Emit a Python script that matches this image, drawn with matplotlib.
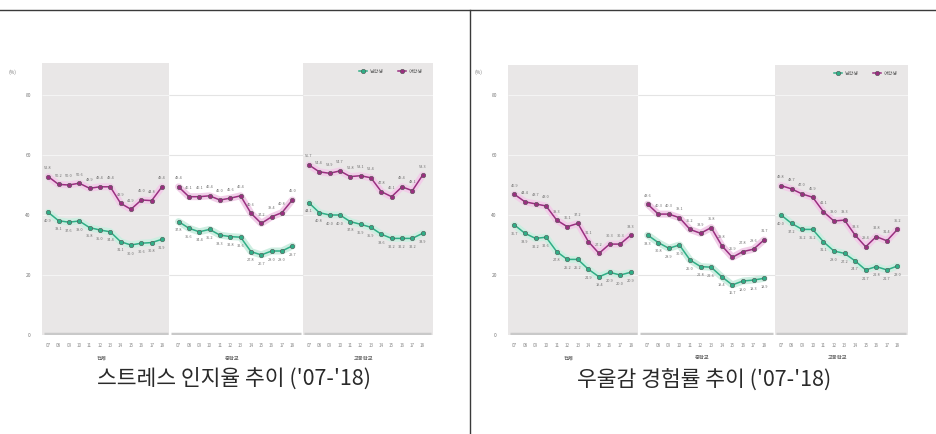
import matplotlib
matplotlib.use('Agg')
import matplotlib.pyplot as plt
from matplotlib.lines import Line2D
from matplotlib.transforms import blended_transform_factory

plt.rcParams['font.family'] = ['Noto Sans CJK KR', 'DejaVu Sans']

# 연도 / 학교급
years = ['07', '08', '09', '10', '11', '12', '13', '14', '15', '16', '17', '18']
groups = ['전체', '중학교', '고등학교']
labels = ['남학생', '여학생']

# 스트레스 인지율 (%)
stress_boys = [
    [40.9, 38.1, 37.6, 38.0, 35.8, 35.0, 34.4, 31.1, 30.0, 30.6, 30.8, 31.9],
    [37.8, 35.6, 34.4, 35.2, 33.3, 32.8, 32.6, 27.8, 26.7, 28.0, 28.0, 29.7],
    [44.1, 40.8, 40.0, 40.0, 37.8, 36.9, 35.9, 33.6, 32.2, 32.2, 32.2, 33.9],
]
stress_girls = [
    [52.8, 50.2, 50.0, 50.6, 48.9, 49.4, 49.4, 43.9, 41.9, 45.0, 44.8, 49.4],
    [49.4, 46.1, 46.1, 46.4, 45.0, 45.6, 46.4, 40.6, 37.2, 39.4, 40.8, 45.0],
    [56.7, 54.4, 53.9, 54.7, 52.8, 53.1, 52.4, 47.8, 46.1, 49.4, 48.1, 53.3],
]

# 우울감 경험률 (%)
depress_boys = [
    [36.7, 33.9, 32.2, 32.6, 27.8, 25.2, 25.2, 21.9, 19.4, 20.9, 20.0, 20.9],
    [33.3, 30.8, 28.9, 30.0, 25.0, 22.8, 22.6, 19.4, 16.7, 18.0, 18.3, 18.9],
    [40.0, 37.2, 35.2, 35.2, 31.1, 28.0, 27.2, 24.7, 21.7, 22.8, 21.7, 23.0],
]
depress_girls = [
    [46.9, 44.4, 43.7, 43.0, 38.3, 36.1, 37.2, 31.1, 27.2, 30.3, 30.3, 33.3],
    [43.6, 40.3, 40.3, 39.1, 35.2, 33.9, 35.8, 29.8, 25.9, 27.8, 28.6, 31.7],
    [49.8, 48.7, 47.0, 45.9, 41.1, 38.0, 38.3, 33.3, 29.4, 32.8, 31.4, 35.2],
]

GREEN = '#2fae86'
GREEN_GLOW = '#cdeee1'
PURPLE = '#9a2f80'
PURPLE_GLOW = '#f1cde8'
SHADE = '#e9e7e7'

PW = 12.6        # 학교급 한 칸의 폭
OFF = 0.6
bounds = [(0, 12.3), (12.3, 25.2), (25.2, 37.8)]


def draw_chart(ax, boys, girls, ytop):
    ax.set_xlim(0, 37.8)
    ax.set_ylim(0, ytop)
    for s in ax.spines.values():
        s.set_visible(False)

    xticks = []
    for p, (x0, x1) in enumerate(bounds):
        if p != 1:
            ax.axvspan(x0, x1, color=SHADE, lw=0, zorder=0)
        gc = '#f4f4f4' if p != 1 else '#e4e4e4'
        for g in [20, 40, 60, 80]:
            ax.hlines(g, x0, x1, color=gc, lw=0.8, zorder=1)
        ax.hlines(0.4, x0 + 0.15, x1 - 0.15, color='#c9c9c9', lw=2.5, zorder=2)

        xs = [p * PW + OFF + i for i in range(len(years))]
        xticks += xs
        for vals, c, glow, dy, va in [(boys[p], GREEN, GREEN_GLOW, -2.2, 'top'),
                                      (girls[p], PURPLE, PURPLE_GLOW, 2.2, 'bottom')]:
            ax.plot(xs, vals, color=glow, lw=5, solid_capstyle='round', zorder=3)
            ax.plot(xs, vals, color=c, lw=1.1, marker='o', ms=3.2,
                    mfc=c, mec='#555555', mew=0.4, zorder=4)
            for x, v in zip(xs, vals):
                ax.text(x, v + dy, f'{v:.1f}', ha='center', va=va,
                        fontsize=2.8, color='#6f6f6f', zorder=5)

    ax.set_xticks(xticks)
    ax.set_xticklabels(years * 3, fontsize=3.3, color='#888888')
    ax.set_yticks([0, 20, 40, 60, 80])
    ax.set_yticklabels(['0', '20', '40', '60', '80'], fontsize=3.5, color='#777777')
    ax.tick_params(length=0, pad=6)
    ax.tick_params(axis='y', pad=8)
    ax.text(-0.075, 263 / 3 / ytop, '(%)', transform=ax.transAxes,
            fontsize=3.5, color='#777777', ha='center', va='center')

    tr = blended_transform_factory(ax.transData, ax.transAxes)
    for p, (x0, x1) in enumerate(bounds):
        ax.text((x0 + x1) / 2 - 0.4, -0.085, groups[p], transform=tr,
                ha='center', va='center', fontsize=3.8, color='#666666', weight='bold')

    handles = [Line2D([], [], color=GREEN, lw=1.1, marker='o', ms=3.2, mec='#555555', mew=0.4),
               Line2D([], [], color=PURPLE, lw=1.1, marker='o', ms=3.2, mec='#555555', mew=0.4)]
    ax.legend(handles, labels, loc='upper right', bbox_to_anchor=(0.985, 0.995), ncol=2,
              frameon=False, fontsize=3.6, handlelength=1.6, columnspacing=3.0,
              handletextpad=0.5, labelcolor='#666666')


fig = plt.figure(figsize=(9.37, 4.34), dpi=100)
W, H = 937, 434

ax1 = fig.add_axes([42 / W, 1 - 335 / H, 391 / W, 272 / H])
draw_chart(ax1, stress_boys, stress_girls, 272 / 3)

ax2 = fig.add_axes([508 / W, 1 - 335 / H, 400 / W, 270 / H])
draw_chart(ax2, depress_boys, depress_girls, 270 / 3)

fig.text(234 / W, 1 - 379 / H, "스트레스 인지율 추이 ('07-'18)", ha='center', va='center',
         fontsize=15.5, color='#2a2a2a', weight='medium')
fig.text(704 / W, 1 - 381 / H, "우울감 경험률 추이 ('07-'18)", ha='center', va='center',
         fontsize=15.5, color='#2a2a2a', weight='medium')

# 바깥 구분선
fig.add_artist(Line2D([0, 1], [1 - 10 / H, 1 - 10 / H], transform=fig.transFigure,
                      color='#3a3a3a', lw=1))
fig.add_artist(Line2D([470 / W, 470 / W], [0, 1 - 10 / H], transform=fig.transFigure,
                      color='#3a3a3a', lw=1))

fig.savefig('out.png', dpi=100, facecolor='white')
